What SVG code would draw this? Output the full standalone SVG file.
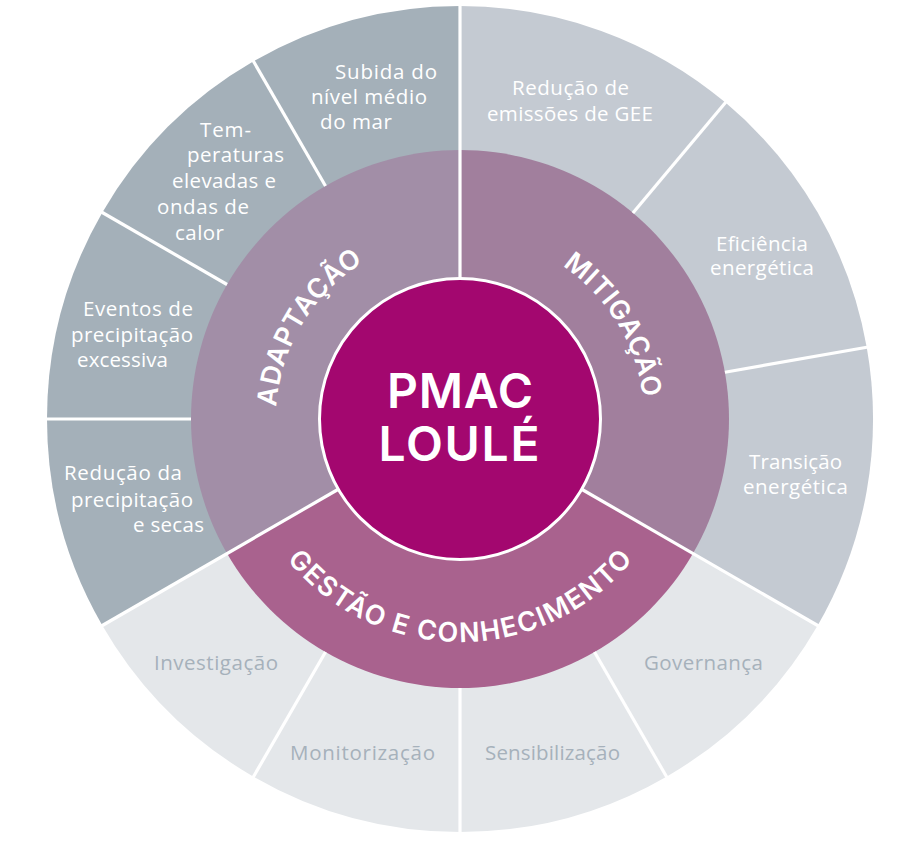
<svg xmlns="http://www.w3.org/2000/svg" width="919" height="843" viewBox="0 0 919 843">
<style>
.oA { fill:#a4b0b9; }
.oM { fill:#c4cad2; }
.oG { fill:#e4e7ea; }
.mA { fill:#a28ea7; }
.mM { fill:#a17f9d; }
.mG { fill:#a9628e; }
.lbl { font-family:"Open Sans","Liberation Sans",sans-serif; font-size:20.5px; }
.w { fill:#ffffff; }
.g { fill:#a6b1bb; }
.ring { fill:#ffffff; font-family:Inter,"Liberation Sans",sans-serif; font-weight:600; font-size:27px; }
.title { fill:#ffffff; font-family:Inter,"Liberation Sans",sans-serif; font-weight:600; font-size:48px; text-anchor:middle; }
.div { stroke:#ffffff; stroke-width:3.2; fill:none; }
</style>
<defs>
<path id="arcA" d="M286.03,478.9 A184,184 0 0 1 431.22,237.27"/>
<path id="arcM" d="M487.2,237 A184,184 0 0 1 634.5,477.4"/>
<path id="arcG" d="M250.45,495.27 A223,223 0 0 0 669.55,495.27"/>
</defs>
<rect width="919" height="843" fill="#ffffff"/>

<g id="outer-adaptacao">
<g id="subida-nivel-mar">
<path class="oA" d="M460,419 L253.5,61.33 A413,413 0 0 1 460,6 Z"/>
<text class="lbl w"><tspan x="335" y="79" textLength="102">Subida do</tspan><tspan x="311" y="104" textLength="116">nível médio</tspan><tspan x="320" y="129" textLength="72">do mar</tspan></text>
</g>
<g id="temperaturas-elevadas">
<path class="oA" d="M460,419 L102.33,212.5 A413,413 0 0 1 253.5,61.33 Z"/>
<text class="lbl w"><tspan x="200" y="137" textLength="51">Tem-</tspan><tspan x="187" y="162" textLength="97">peraturas</tspan><tspan x="172" y="188" textLength="104">elevadas e</tspan><tspan x="157" y="214" textLength="92">ondas de</tspan><tspan x="175" y="240" textLength="49">calor</tspan></text>
</g>
<g id="eventos-precipitacao">
<path class="oA" d="M460,419 L47,419 A413,413 0 0 1 102.33,212.5 Z"/>
<text class="lbl w"><tspan x="83" y="316" textLength="110">Eventos de</tspan><tspan x="71" y="342" textLength="122">precipitação</tspan><tspan x="77" y="367" textLength="91">excessiva</tspan></text>
</g>
<g id="reducao-precipitacao">
<path class="oA" d="M460,419 L102.33,625.5 A413,413 0 0 1 47,419 Z"/>
<text class="lbl w"><tspan x="64" y="480" textLength="118">Redução da</tspan><tspan x="71" y="507" textLength="122">precipitação</tspan><tspan x="133" y="532" textLength="71">e secas</tspan></text>
</g>
</g>

<g id="outer-mitigacao">
<g id="reducao-emissoes">
<path class="oM" d="M460,419 L460,6 A413,413 0 0 1 725.47,102.62 Z"/>
<text class="lbl w"><tspan x="512" y="95" textLength="117">Redução de</tspan><tspan x="487" y="121" textLength="166">emissões de GEE</tspan></text>
</g>
<g id="eficiencia-energetica">
<path class="oM" d="M460,419 L725.47,102.62 A413,413 0 0 1 866.73,347.28 Z"/>
<text class="lbl w"><tspan x="716" y="251" textLength="92">Eficiência</tspan><tspan x="710" y="275" textLength="104">energética</tspan></text>
</g>
<g id="transicao-energetica">
<path class="oM" d="M460,419 L866.73,347.28 A413,413 0 0 1 817.67,625.5 Z"/>
<text class="lbl w"><tspan x="749" y="469" textLength="93">Transição</tspan><tspan x="743" y="494" textLength="105">energética</tspan></text>
</g>
</g>

<g id="outer-gestao">
<g id="governanca">
<path class="oG" d="M460,419 L817.67,625.5 A413,413 0 0 1 666.5,776.67 Z"/>
<text class="lbl g" x="644" y="670" textLength="119">Governança</text>
</g>
<g id="sensibilizacao">
<path class="oG" d="M460,419 L666.5,776.67 A413,413 0 0 1 460,832 Z"/>
<text class="lbl g" x="485" y="760" textLength="135">Sensibilização</text>
</g>
<g id="monitorizacao">
<path class="oG" d="M460,419 L460,832 A413,413 0 0 1 253.5,776.67 Z"/>
<text class="lbl g" x="290" y="760" textLength="145">Monitorização</text>
</g>
<g id="investigacao">
<path class="oG" d="M460,419 L253.5,776.67 A413,413 0 0 1 102.33,625.5 Z"/>
<text class="lbl g" x="154" y="670" textLength="124">Investigação</text>
</g>
</g>

<g id="adaptacao">
<path class="mA" d="M460,419 L227.04,553.5 A269,269 0 0 1 460,150 Z"/>
<text class="ring"><textPath href="#arcA" startOffset="50%" text-anchor="middle" textLength="175">ADAPTAÇÃO</textPath></text>
</g>
<g id="mitigacao">
<path class="mM" d="M460,419 L460,150 A269,269 0 0 1 692.96,553.5 Z"/>
<text class="ring"><textPath href="#arcM" startOffset="50%" text-anchor="middle" textLength="159">MITIGAÇÃO</textPath></text>
</g>
<g id="gestao-conhecimento">
<path class="mG" d="M460,419 L692.96,553.5 A269,269 0 0 1 227.04,553.5 Z"/>
<text class="ring"><textPath href="#arcG" startOffset="50%" text-anchor="middle" textLength="396">GESTÃO E CONHECIMENTO</textPath></text>
</g>

<g id="connectors">
<line class="div" x1="460" y1="279" x2="460" y2="2"/>
<line class="div" x1="582.11" y1="489.5" x2="820.27" y2="627"/>
<line class="div" x1="337.89" y1="489.5" x2="99.73" y2="627"/>
<line class="div" x1="632.91" y1="212.93" x2="727.4" y2="100.33"/>
<line class="div" x1="724.91" y1="372.29" x2="869.68" y2="346.76"/>
<line class="div" x1="594.5" y1="651.96" x2="668" y2="779.26"/>
<line class="div" x1="460" y1="688" x2="460" y2="835"/>
<line class="div" x1="325.5" y1="651.96" x2="252" y2="779.26"/>
<line class="div" x1="191" y1="419" x2="44" y2="419"/>
<line class="div" x1="227.04" y1="284.5" x2="99.73" y2="211"/>
<line class="div" x1="325.5" y1="186.04" x2="252" y2="58.74"/>
</g>

<g id="pmac-loule">
<circle cx="460" cy="419" r="140.5" fill="#a3076f" stroke="#ffffff" stroke-width="3"/>
<text class="title" x="460" y="408" textLength="146">PMAC</text>
<text class="title" x="459" y="461" textLength="161">LOULÉ</text>
</g>
</svg>
